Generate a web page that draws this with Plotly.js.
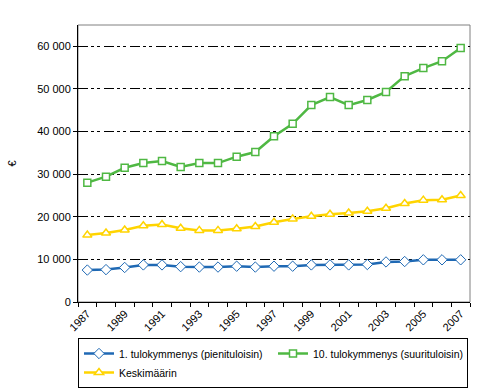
<!DOCTYPE html>
<html>
<head>
<meta charset="utf-8">
<script src="https://cdn.plot.ly/plotly-3.0.1.min.js"></script>
<style>html,body{margin:0;padding:0;background:#fff;}#chart{width:495px;height:388px;}</style>
</head>
<body>
<div id="chart"></div>
<script>
const years = [1987,1988,1989,1990,1991,1992,1993,1994,1995,1996,1997,1998,1999,2000,2001,2002,2003,2004,2005,2006,2007];
const lowest = [7500,7600,8100,8700,8700,8300,8200,8200,8400,8200,8400,8400,8700,8700,8700,8800,9400,9500,9900,9900,9900];
const highest = [28000,29400,31500,32600,33100,31700,32600,32600,34100,35200,38900,41800,46200,48100,46200,47400,49300,53000,54900,56500,59600];
const average = [15700,16200,16900,17900,18200,17300,16800,16800,17200,17700,18700,19500,20100,20600,20900,21300,22000,23100,23900,24000,25000];
const seriesNames = ['1. tulokymmenys (pienituloisin)','10. tulokymmenys (suurituloisin)','Keskimäärin'];
const xTickVals = [1987,1989,1991,1993,1995,1997,1999,2001,2003,2005,2007];
const xTickText = ['1987','1989','1991','1993','1995','1997','1999','2001','2003','2005','2007'];
const yTickVals = [0,10000,20000,30000,40000,50000,60000];
const yTickText = ['0','10 000','20 000','30 000','40 000','50 000','60 000'];
const yTitle = '€';

const font = {family: '"Liberation Sans", Arial, sans-serif', size: 11, color: '#000'};
const legendFont = {family: '"Liberation Sans", Arial, sans-serif', size: 10.5, color: '#000'};

const traces = [
  {x: years, y: lowest, name: seriesNames[0], type: 'scatter', mode: 'lines+markers',
   line: {color: '#1F69B4', width: 2.5},
   marker: {symbol: 'diamond', size: 8, color: '#fff', line: {color: '#1F69B4', width: 1}}},
  {x: years, y: highest, name: seriesNames[1], type: 'scatter', mode: 'lines+markers',
   line: {color: '#4FB843', width: 2.5},
   marker: {symbol: 'square', size: 7, color: '#fff', line: {color: '#4FB843', width: 1.5}}},
  {x: years, y: average, name: seriesNames[2], type: 'scatter', mode: 'lines+markers',
   line: {color: '#FFD400', width: 2.5},
   marker: {symbol: 'triangle-up', size: 8, color: '#fff', line: {color: '#FFD400', width: 1.5}}}
];

const layout = {
  width: 495, height: 388,
  margin: {l: 78, r: 25, t: 25, b: 86, pad: 0},
  paper_bgcolor: '#fff', plot_bgcolor: '#fff',
  font: font,
  showlegend: true,
  legend: {
    orientation: 'h', xref: 'container', yref: 'container',
    x: 78/495, xanchor: 'left', y: 1 - 338/388, yanchor: 'top',
    bordercolor: '#000', borderwidth: 1, bgcolor: '#fff',
    entrywidth: 149, traceorder: 'normal', font: legendFont,
    itemwidth: 30, tracegroupgap: 0
  },
  xaxis: {
    type: 'linear', range: [1986.5, 2007.5],
    tickmode: 'array', tickvals: xTickVals, ticktext: xTickText,
    tickangle: -45, ticks: '', showgrid: false, zeroline: false,
    showline: true, linecolor: '#000', linewidth: 1,
    tickfont: font,
    minor: {tickmode: 'linear', tick0: 1986.5, dtick: 1, ticks: 'outside', ticklen: 4, tickcolor: '#000', tickwidth: 1, showgrid: false}
  },
  yaxis: {
    range: [0, 65000],
    tickmode: 'array', tickvals: yTickVals, ticktext: yTickText,
    ticks: 'outside', ticklen: 4, tickcolor: '#000', tickwidth: 1,
    showline: true, linecolor: '#000', linewidth: 1,
    showgrid: true, gridcolor: '#000', gridwidth: 1, griddash: '10px,3px,3px,3px,3px,4px',
    zeroline: false, tickfont: font,
    title: {text: yTitle, font: font, standoff: 18}
  },
  shapes: [
    {type: 'rect', xref: 'paper', yref: 'paper', x0: 0, x1: 1, y0: 0, y1: 1,
     line: {color: '#808080', width: 1}, layer: 'below'}
  ]
};

Plotly.newPlot('chart', traces, layout, {staticPlot: true, displayModeBar: false});
</script>
</body>
</html>
